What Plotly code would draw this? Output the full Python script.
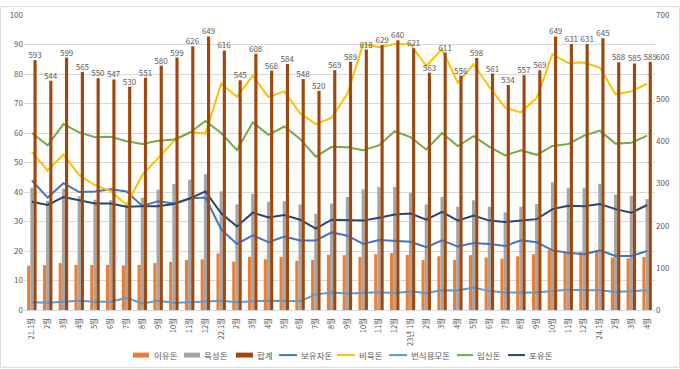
import plotly.graph_objects as go

months = ["21.1월"] + [f"{m}월" for m in range(2, 13)] + ["22.1월"] + [f"{m}월" for m in range(2, 13)] \
    + ["23년 1월"] + [f"{m}월" for m in range(2, 13)] + ["24.1월", "2월", "3월", "4월"]

weaned = [15.0, 15.2, 15.9, 15.3, 15.3, 15.3, 15.1, 15.3, 15.9, 16.3, 16.9, 17.2, 19.2, 16.4,
          18.0, 17.2, 18.0, 16.7, 17.0, 18.7, 18.6, 18.0, 18.9, 19.3, 18.7, 16.9, 18.2, 17.0,
          18.6, 17.8, 17.4, 18.2, 18.9, 20.3, 19.4, 19.7, 20.0, 17.8, 17.5, 18.0]
growing = [41.4, 37.0, 41.1, 38.6, 37.4, 37.2, 36.0, 38.1, 40.8, 42.7, 44.2, 46.0, 40.2, 35.8,
           39.4, 36.7, 36.9, 35.8, 32.6, 36.1, 38.3, 40.9, 41.7, 41.7, 39.7, 35.8, 38.3, 35.0,
           37.2, 35.0, 33.1, 35.0, 35.9, 43.3, 41.3, 41.3, 42.8, 39.1, 38.7, 37.6]
total = [593, 544, 599, 565, 550, 547, 530, 551, 580, 599, 626, 649,
         616, 545, 608, 568, 584, 548, 520, 569, 589, 618, 629, 640,
         621, 563, 611, 556, 598, 561, 534, 557, 569, 649, 631, 631,
         645, 588, 585, 589]
suckling = [43.9, 38.1, 43.0, 40.0, 40.2, 40.9, 40.2, 35.3, 36.9, 36.1, 37.8, 38.1, 27.3, 22.4,
            25.3, 23.0, 24.9, 23.6, 23.6, 26.3, 25.2, 22.4, 23.7, 23.3, 23.1, 21.3, 23.6, 21.5,
            22.7, 22.4, 21.7, 23.6, 23.0, 20.2, 19.4, 18.9, 20.2, 18.3, 18.3, 20.0]
finishing = [53.5, 47.3, 52.7, 45.7, 42.3, 40.3, 35.7, 45.7, 51.5, 57.3, 60.3, 59.8, 76.7, 72.3,
             79.4, 72.2, 74.1, 66.7, 63.0, 65.2, 73.3, 90.2, 89.1, 90.2, 90.0, 82.8, 88.4, 77.1,
             83.3, 75.6, 68.6, 67.0, 71.9, 86.7, 83.7, 83.9, 82.2, 73.1, 74.1, 76.7]
breeding = [2.6, 2.5, 2.8, 3.1, 2.8, 2.8, 4.1, 2.2, 3.1, 2.5, 2.6, 2.8, 3.1, 2.6,
            3.0, 3.1, 3.0, 3.0, 5.3, 5.9, 5.6, 5.8, 6.0, 5.8, 6.3, 5.8, 6.7, 6.6,
            7.6, 6.4, 5.9, 5.9, 5.9, 6.4, 6.9, 6.7, 6.7, 6.1, 6.4, 6.7]
pregnant = [60.0, 55.8, 63.0, 60.2, 58.6, 58.7, 57.2, 56.3, 57.4, 57.8, 60.0, 64.1, 60.0, 54.2,
            63.6, 59.4, 62.2, 58.0, 52.0, 55.3, 55.2, 54.2, 55.8, 60.6, 58.6, 54.4, 60.0, 55.6,
            58.9, 55.3, 52.4, 54.1, 52.6, 55.6, 56.3, 59.1, 60.8, 56.4, 56.7, 59.1]
nursing = [36.7, 35.6, 38.3, 37.2, 36.1, 36.1, 35.0, 35.2, 35.2, 35.9, 37.8, 40.2, 32.8, 28.3,
           33.0, 31.4, 32.2, 30.6, 27.6, 30.6, 30.4, 30.3, 31.3, 32.4, 32.7, 30.6, 33.3, 30.3,
           32.0, 30.3, 29.8, 30.4, 30.8, 34.2, 35.3, 35.2, 35.9, 34.2, 33.0, 35.6]

x = list(range(len(months)))
FONT = "Noto Sans CJK KR"
TXT = "#595959"

W, H = 680, 369
ML, MR, MT, MB = 24, 25, 9, 59
PW, PH = W - ML - MR, H - MT - MB


def px_x(p):
    return (p - ML) / PW


def px_y(p):
    return (H - MB - p) / PH


bars = [("이유돈", weaned, "#ED7D31", -0.3, "y"),
        ("육성돈", growing, "#A5A5A5", -0.1, "y"),
        ("합계", total, "#9E480E", 0.1, "y2")]
lines = [("보유자돈", suckling, "#4472C4"), ("비육돈", finishing, "#FFC000"),
         ("번식용모돈", breeding, "#5B9BD5"), ("임신돈", pregnant, "#70AD47"),
         ("포유돈", nursing, "#264478")]

fig = go.Figure()
for name, vals, col, off, ax in bars:
    kw = {}
    if name == "합계":
        kw = dict(text=[str(v) for v in vals], textposition="outside",
                  constraintext="none", cliponaxis=False,
                  textfont=dict(size=8, color=TXT, family=FONT))
    fig.add_trace(go.Bar(x=x, y=vals, name=name, marker_color=col, marker_line_width=0,
                         width=0.2, offset=off, yaxis=ax, showlegend=False, **kw))
for name, vals, col in lines:
    fig.add_trace(go.Scatter(x=x, y=vals, name=name, mode="lines",
                             line=dict(color=col, width=2), yaxis="y", showlegend=False))

fig.update_layout(
    width=W, height=H,
    margin=dict(l=ML, r=MR, t=MT, b=MB),
    paper_bgcolor="white", plot_bgcolor="white",
    barmode="overlay",
    font=dict(family=FONT, size=8, color=TXT),
    xaxis=dict(range=[-0.5, len(months) - 0.5], tickmode="array", tickvals=x, ticktext=months,
               tickangle=-90, showgrid=False, showline=True, linecolor="#D9D9D9",
               ticks="", ticklabelstandoff=4, tickfont=dict(size=7.5, color=TXT)),
    yaxis=dict(range=[0, 100], dtick=10, showgrid=True, gridcolor="#D9D9D9",
               zeroline=False, ticks="", tickfont=dict(size=8, color=TXT)),
    yaxis2=dict(range=[0, 700], dtick=100, overlaying="y", side="right", showgrid=False,
                zeroline=False, ticks="", tickfont=dict(size=8, color=TXT)),
    showlegend=False,
)

# custom legend (swatch start px, swatch end px, text start px)
legend_pos = [(133, 149, 152), (184, 200, 202), (236, 253, 255), (279, 297, 299),
              (337, 355, 357), (389, 407, 409), (457, 473, 475), (508, 525, 527)]
legend_items = [(n, c, "bar") for n, _, c, _, _ in bars] + [(n, c, "line") for n, _, c in lines]
LY = 356
for (name, col, kind), (s0, s1, t0) in zip(legend_items, legend_pos):
    if kind == "bar":
        fig.add_shape(type="rect", xref="paper", yref="paper",
                      x0=px_x(s0), x1=px_x(s1), y0=px_y(LY + 2.5), y1=px_y(LY - 2.5),
                      line=dict(width=0), fillcolor=col)
    else:
        fig.add_shape(type="line", xref="paper", yref="paper",
                      x0=px_x(s0), x1=px_x(s1), y0=px_y(LY), y1=px_y(LY),
                      line=dict(color=col, width=2))
    fig.add_annotation(text=name, xref="paper", yref="paper", x=px_x(t0), y=px_y(LY),
                       xanchor="left", yanchor="middle", showarrow=False,
                       font=dict(size=8.5, color=TXT, family=FONT))

fig.add_shape(type="rect", xref="paper", yref="paper",
              x0=px_x(0.5), x1=px_x(W - 0.5), y0=px_y(H - 0.5), y1=px_y(0.5),
              line=dict(color="#D9D9D9", width=1), fillcolor="rgba(0,0,0,0)", layer="above")

fig.write_html("out.html", config={"displayModeBar": False},
               post_script="document.body.style.margin='0';document.body.style.overflow='hidden';")
